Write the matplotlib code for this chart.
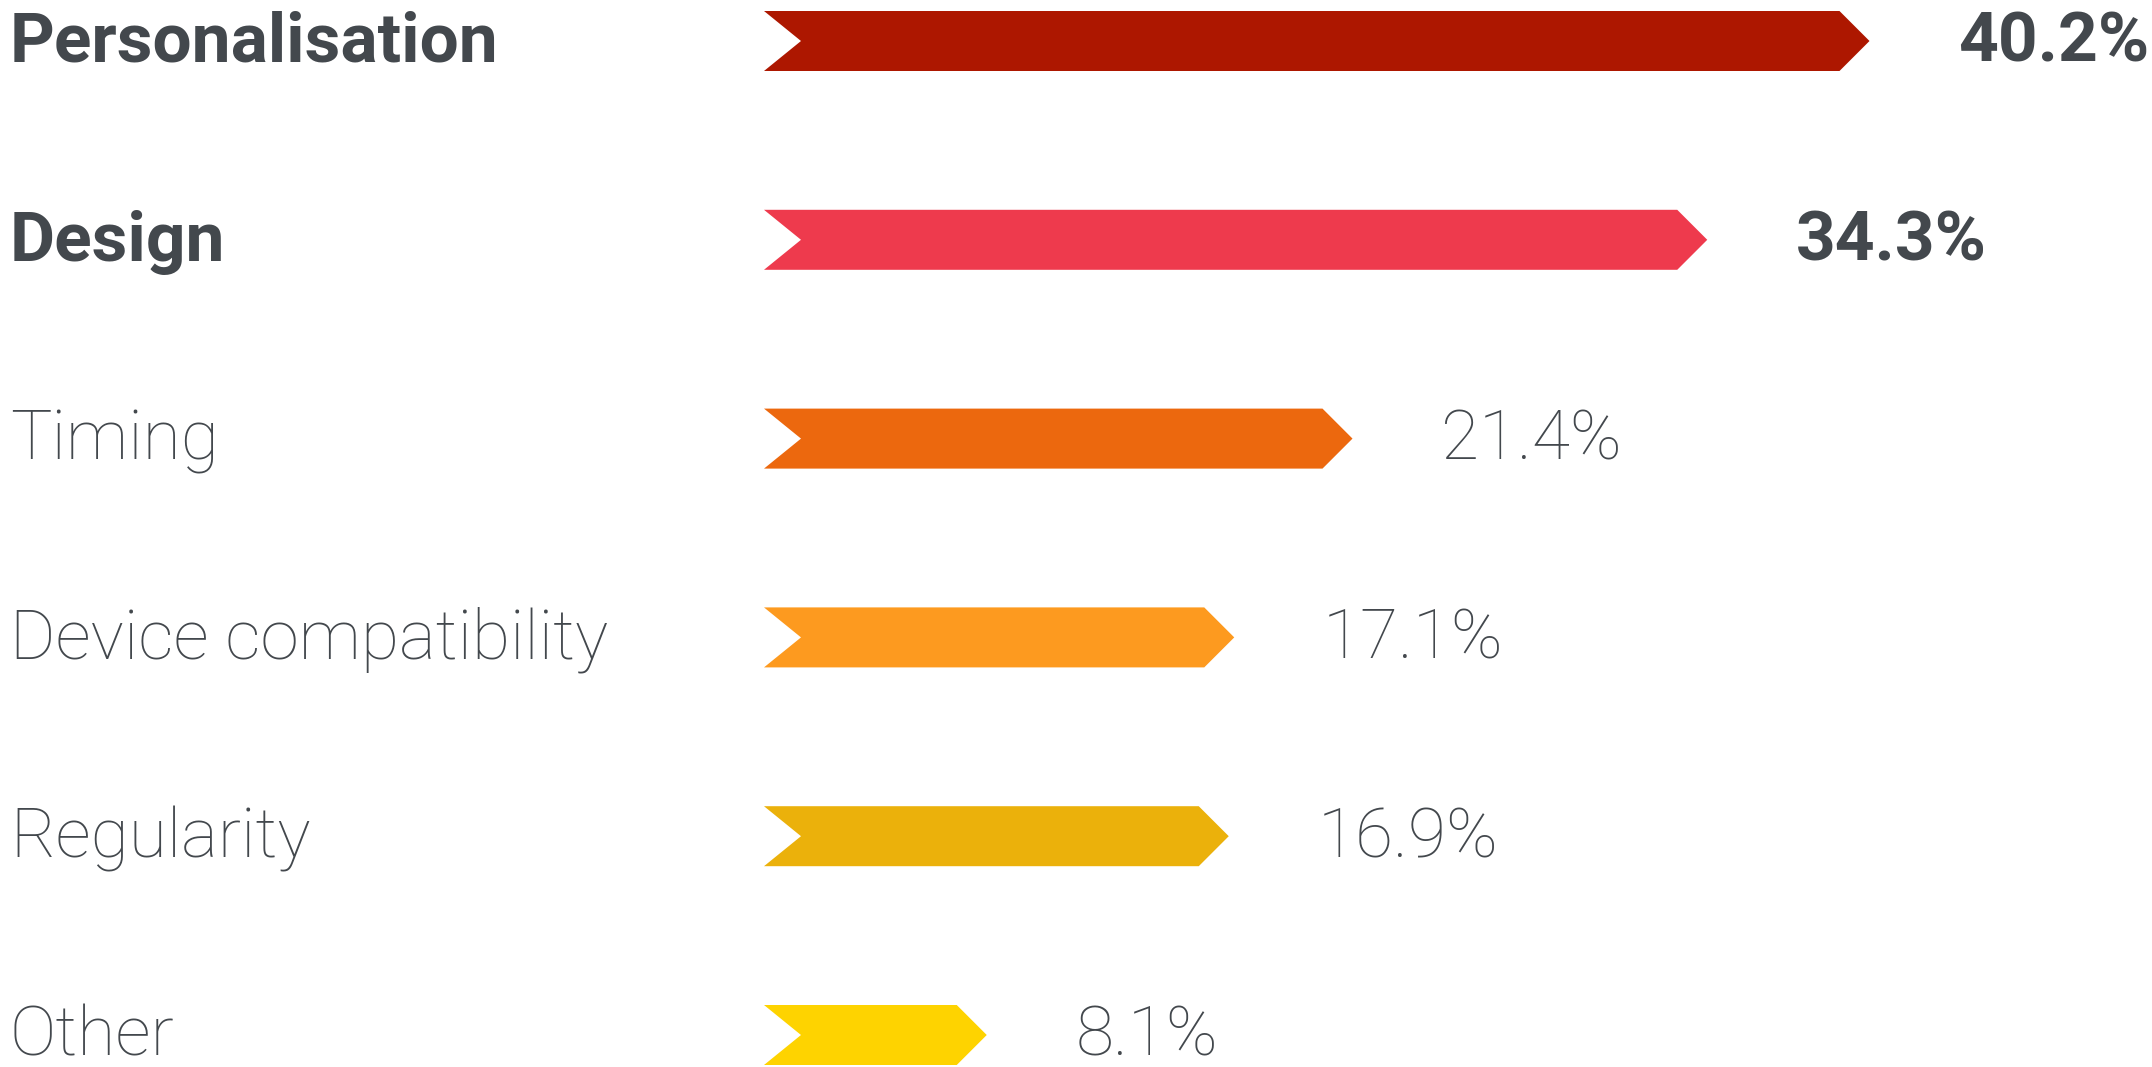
import matplotlib
matplotlib.use("Agg")
import matplotlib.pyplot as plt
from matplotlib.patches import Polygon
from matplotlib.transforms import blended_transform_factory

# Reasons / shares
categories = ["Personalisation", "Design", "Timing", "Device compatibility",
              "Regularity", "Other"]
values = [40.2, 34.3, 21.4, 17.1, 16.9, 8.1]
value_labels = ["40.2%", "34.3%", "21.4%", "17.1%", "16.9%", "8.1%"]
bold_rows = [True, True, False, False, False, False]
colors = ["#AD1700", "#EE3A4D", "#EC680E", "#FD9A1F", "#EBB10B", "#FED300"]

TEXT = "#43484D"
W, H, DPI = 2152, 1067, 100

# layout in pixels
x0_px = 764          # where the bars start
px_per_unit = 27.5   # horizontal scale
row0_px = 41
row_step_px = 198.8
bar_h_px = 60
notch_px = 37
point_px = 30

fig = plt.figure(figsize=(W / DPI, H / DPI), dpi=DPI)
ax = fig.add_axes([0, 0, 1, 1])
ax.set_xlim(-x0_px / px_per_unit, (W - x0_px) / px_per_unit)
ax.set_ylim((H - row0_px) / row_step_px, -row0_px / row_step_px)
ax.axis("off")

bar_h = bar_h_px / row_step_px
notch = notch_px / px_per_unit
point = point_px / px_per_unit

label_tf = blended_transform_factory(ax.transAxes, ax.transData)

for i, (cat, v, lab, bold, c) in enumerate(zip(categories, values, value_labels,
                                               bold_rows, colors)):
    top, bot = i - bar_h / 2, i + bar_h / 2
    # chevron-shaped bar: notched tail, pointed head
    shape = Polygon([(0, top), (v - point, top), (v, i), (v - point, bot),
                     (0, bot), (notch, i)], closed=True, facecolor=c,
                    edgecolor="none")
    ax.add_patch(shape)

    weight = "bold" if bold else "light"
    ax.annotate(cat, xy=(10 / W, i), xycoords=label_tf, xytext=(0, -15),
                textcoords="offset points", ha="left", va="baseline",
                fontsize=50, fontfamily="Roboto", fontweight=weight, color=TEXT)
    ax.annotate(lab, xy=(v, i), xytext=(64, -15), textcoords="offset points",
                ha="left", va="baseline", fontsize=50, fontfamily="Roboto",
                fontweight=weight, color=TEXT)

fig.savefig("out.png", dpi=DPI, facecolor="white")
